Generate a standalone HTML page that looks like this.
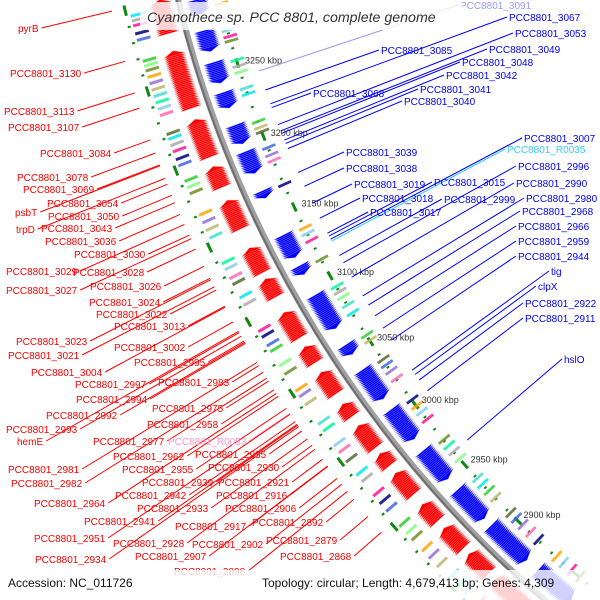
<!DOCTYPE html>
<html><head><meta charset="utf-8">
<style>
html,body{margin:0;padding:0;background:#fff;width:600px;height:600px;overflow:hidden;}
svg{display:block;font-family:"Liberation Sans",sans-serif;overflow:hidden;}
</style></head>
<body>
<svg id="map" width="600" height="600" viewBox="0 0 600 600" xmlns="http://www.w3.org/2000/svg">
<g id="g-dots"></g>
<g id="g-cog"></g>
<g id="g-genes"></g>
<circle cx="1303" cy="-275" r="1158" fill="none" stroke="#a0a0a0" stroke-width="6"/>
<circle cx="1303" cy="-275" r="1159.5" fill="none" stroke="#6e6e6e" stroke-width="2"/>
<g id="g-kbp"></g>
<g id="g-lines"></g>
<g id="g-labels"></g>
<rect x="140" y="2" width="322" height="28" fill="#fff" opacity="0.8"/>
<text x="147" y="22" font-size="14.2" font-style="italic" fill="#333">Cyanothece sp. PCC 8801, complete genome</text>
<rect x="0" y="570" width="600" height="30" fill="#fff" opacity="0.8"/>
<text x="8" y="587" font-size="12" fill="#111">Accession: NC_011726</text>
<text x="262" y="587" font-size="12" fill="#111">Topology: circular; Length: 4,679,413 bp; Genes: 4,309</text>
</svg>
<script>
const redClusters=[[3302,3280],[3270,3232],[3225,3200],[3195,3180],[3172,3152],[3140,3122],[3118,3105],[3095,3076],[3070,3058],[3052,3035],[3028,3018],[3012,2994],[2990,2980],[2975,2957],[2950,2935],[2930,2912],[2908,2890],[2885,2860]];
const blueClusters=[[3296,3286],[3276,3262],[3255,3240],[3235,3224],[3213,3200],[3195,3179],[3168,3162],[3137,3120],[3115,3108],[3094,3068],[3057,3049],[3038,3015],[3007,2983],[2974,2950],[2941,2915],[2910,2878],[2869,2840]];
const redCog=[3296,3293,3290,3285,3281,3268,3265,3262,3258,3254,3250,3246,3242,3238,3234,3222,3219,3215,3211,3206,3202,3192,3188,3184,3170,3165,3160,3155,3138,3134,3128,3124,3115,3110,3092,3088,3082,3078,3068,3062,3050,3046,3040,3026,3021,3010,3005,2998,2988,2983,2972,2966,2960,2948,2942,2937,2928,2922,2915,2905,2898,2892,2882,2876,2870];
const blueCog=[3294,3290,3272,3268,3265,3252,3248,3244,3233,3229,3210,3206,3203,3192,3187,3183,3166,3135,3131,3126,3112,3092,3088,3084,3078,3072,3055,3051,3036,3032,3027,3021,3004,2999,2994,2988,2971,2966,2961,2955,2938,2933,2927,2921,2907,2902,2896,2889,2882,2866,2860,2853,2846];
const kbpTicks=[3300,3250,3200,3150,3100,3050,3000,2950,2900];
const redLabels=[["pyrB",18,28],["PCC8801_3130",10,73],["PCC8801_3113",4,111],["PCC8801_3107",8,127],["PCC8801_3084",40,153],["PCC8801_3078",17,177],["PCC8801_3069",23,189],["psbT",15,212],["PCC8801_3054",47,203],["PCC8801_3050",48,216],["trpD",16,229],["PCC8801_3043",41,228],["PCC8801_3036",45,241],["PCC8801_3030",74,254],["PCC8801_3028",73,272],["PCC8801_3029",6,271],["PCC8801_3026",90,286],["PCC8801_3027",6,290],["PCC8801_3024",89,302],["PCC8801_3022",96,314],["PCC8801_3013",114,326],["PCC8801_3023",16,341],["PCC8801_3002",114,347],["PCC8801_3021",8,355],["PCC8801_2995",134,362],["PCC8801_3004",31,372],["PCC8801_2997",75,384],["PCC8801_2983",158,382],["PCC8801_2994",76,399],["PCC8801_2975",152,408],["PCC8801_2992",46,415],["PCC8801_2958",147,424],["PCC8801_2993",6,429],["hemE",17,441],["PCC8801_2977",93,441],["PCC8801_R0053",168,441,"#ff99cc"],["PCC8801_2962",113,456],["PCC8801_2935",195,454],["PCC8801_2981",8,469],["PCC8801_2955",122,469],["PCC8801_2930",208,467],["PCC8801_2982",11,483],["PCC8801_2939",142,482],["PCC8801_2921",218,482],["PCC8801_2942",115,495],["PCC8801_2916",216,495],["PCC8801_2964",34,503],["PCC8801_2933",137,508],["PCC8801_2906",225,508],["PCC8801_2941",84,521],["PCC8801_2917",175,526],["PCC8801_2892",252,522],["PCC8801_2951",34,538],["PCC8801_2928",113,543],["PCC8801_2902",192,544],["PCC8801_2879",266,540],["PCC8801_2934",35,559],["PCC8801_2907",135,556],["PCC8801_2868",280,556],["PCC8801_2898",174,571]];
const blueLabels=[["PCC8801_3091",460,5,"#9999ff"],["PCC8801_3067",509,17],["PCC8801_3053",515,33],["PCC8801_3085",381,50],["PCC8801_3049",489,49],["PCC8801_3048",462,62],["PCC8801_3042",446,75],["PCC8801_3068",313,93],["PCC8801_3041",420,89],["PCC8801_3040",404,101],["PCC8801_3007",524,138],["PCC8801_R0035",507,149,"#33ccff"],["PCC8801_3039",346,152],["PCC8801_2996",518,166],["PCC8801_3038",346,168],["PCC8801_3019",354,184],["PCC8801_3015",434,182],["PCC8801_2990",516,183],["PCC8801_3018",362,198],["PCC8801_2999",444,199],["PCC8801_2980",526,198],["PCC8801_3017",370,212],["PCC8801_2968",522,211],["PCC8801_2966",518,226],["PCC8801_2959",518,241],["PCC8801_2944",518,256],["tig",551,271],["clpX",538,286],["PCC8801_2922",525,303],["PCC8801_2911",525,318],["hslO",564,359]];

const NS="http://www.w3.org/2000/svg";
const CX=1303,CY=-275,R=1158;
function th(k){return (162.4+(k-3250)*0.0794)*Math.PI/180;}
function P(r,a){return [CX+r*Math.cos(a),CY+r*Math.sin(a)];}
function mk(tag,parent,attrs){const e=document.createElementNS(NS,tag);for(const k in attrs)e.setAttribute(k,attrs[k]);parent.appendChild(e);return e;}
const palette=["#00e5ee","#a9a9a9","#ff1493","#000080","#4169e1","#32cd32","#7fff7f","#6b8e23","#ffa500","#9370db","#bdb76b","#40e0d0","#00fa9a","#87ceeb","#ff69b4","#556b2f"];

const gD=document.getElementById('g-dots');
for(let k=2840;k<=3310;k+=10){
  [R+54,R-40].forEach(rr=>{
    const major=(k%50===0);
    const a=th(k),d=major?0.25:0.05;
    const p1=P(rr,a-d*Math.PI/180),p2=P(rr,a+d*Math.PI/180);
    const ln=mk('line',gD,{x1:p1[0],y1:p1[1],x2:p2[0],y2:p2[1],stroke:'#118811','stroke-width':3});
    
    
  });
}
const gK=document.getElementById('g-kbp');
kbpTicks.forEach(k=>{
  const p=P(1110,th(k));
  const t=mk('text',gK,{x:p[0],y:p[1]+3,'font-size':9,fill:'#333'});
  t.textContent=k+" kbp";
  
  
});
const gC=document.getElementById('g-cog');
function strip(k,r1,r2,col){
  const a1=th(k-0.9),a2=th(k+0.9);
  const pts=[P(r1,a1),P(r2,a1),P(r2,a2),P(r1,a2)].map(p=>p.join(',')).join(' ');
  const e=mk('polygon',gC,{points:pts,fill:col,opacity:0.85});
  
  
}
redCog.forEach((k,i)=>strip(k,R+36,R+50,palette[i%palette.length]));
blueCog.forEach((k,i)=>strip(k,R-34,R-48,palette[(i*5+3)%palette.length]));
const gG=document.getElementById('g-genes');
function chev(k,r1,r2,dir,fill,stroke){
  const a=th(k),tip=th(k+dir*3);
  const pts=[P(r1,a),P(r2,a),P((r1+r2)/2,tip)].map(p=>p.join(',')).join(' ');
  const e=mk('polygon',gG,{points:pts,fill:fill,stroke:stroke,'stroke-width':0.4});
  
  
}
redClusters.forEach(([hi,lo])=>{for(let k=lo;k<=hi-3;k+=1.1)chev(k,R+7,R+29,1,'#ff0000','#ff9a9a');});
blueClusters.forEach(([hi,lo])=>{for(let k=hi;k>=lo+3;k-=1.1)chev(k,R-7,R-29,-1,'#0000ff','#9a9aff');});
const gL=document.getElementById('g-labels'),gN=document.getElementById('g-lines');
redLabels.forEach(([s,x,y,c])=>{
  const col=c||'#ff0000';
  const t=mk('text',gL,{x:x,y:y+4,'font-size':10,fill:col});
  t.textContent=s;
  
  
  const w=t.getComputedTextLength();
  const sx=x+w+3,sy=y;
  const dx=CX-sx,dy=CY-sy,D=Math.hypot(dx,dy),tt=D-1225;
  if(tt>0){
    const l=mk('line',gN,{x1:sx,y1:sy,x2:sx+dx/D*tt,y2:sy+dy/D*tt,stroke:col,'stroke-width':1});
    
    
  }
});
blueLabels.forEach(([s,x,y,c])=>{
  const col=c||'#0000ff';
  const t=mk('text',gL,{x:x,y:y+4,'font-size':10,fill:col});
  t.textContent=s;
  
  
  const sx=x-2,sy=y;
  const dx=sx-CX,dy=sy-CY,D=Math.hypot(dx,dy),tt=1100-D;
  if(tt>0){
    const l=mk('line',gN,{x1:sx,y1:sy,x2:sx+dx/D*tt,y2:sy+dy/D*tt,stroke:col,'stroke-width':1});
    
    
  }
});
</script>
</body></html>
